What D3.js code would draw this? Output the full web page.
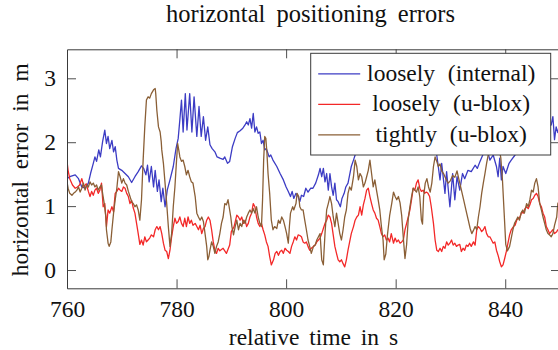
<!DOCTYPE html>
<html>
<head>
<meta charset="utf-8">
<script src="https://cdn.jsdelivr.net/npm/d3@7"></script>
<style>
  body { margin: 0; background: #fff; }
  svg { display: block; }
</style>
</head>
<body>
<svg id="chart" width="558" height="350"></svg>
<script>
// horizontal positioning errors: three error traces over relative time
var xTicks = [760, 780, 800, 820, 840];
var yTicks = [0, 1, 2, 3];
var seriesNames = ["loosely (internal)", "loosely (u-blox)", "tightly (u-blox)"];

var blueT = [760.0, 760.5, 761.5, 762.1, 762.7, 763.3, 763.9, 764.3, 764.8, 765.1, 765.4, 765.8, 766.1, 766.5, 766.9, 767.2, 767.5, 767.8, 768.2, 768.5,
  768.8, 769.1, 769.4, 770.0, 770.6, 771.2, 771.8, 772.4, 773.0, 773.6, 774.0, 774.4, 774.7, 775.0, 775.4, 775.8, 776.1, 776.5, 776.8, 777.2,
  777.5, 777.9, 778.3, 778.8, 779.4, 779.9, 780.3, 780.6, 780.9, 781.2, 781.6, 781.9, 782.4, 782.8, 783.2, 783.7, 784.1, 784.5, 784.9, 785.3,
  785.7, 786.1, 786.5, 787.0, 787.4, 787.9, 788.5, 788.8, 789.3, 789.7, 790.2, 790.7, 791.1, 791.6, 792.1, 792.5, 792.8, 793.1, 793.4, 793.7,
  794.0, 794.3, 794.6, 794.9, 795.2, 795.5, 795.8, 796.1, 796.4, 796.9, 797.2, 797.6, 798.3, 798.9, 799.5, 800.0, 800.4, 800.8, 801.1, 801.4,
  801.8, 802.2, 802.5, 802.8, 803.2, 803.6, 804.0, 804.5, 804.9, 805.4, 805.9, 806.2, 806.5, 806.8, 807.1, 807.4, 807.7, 808.0, 808.3, 808.6,
  808.9, 809.2, 809.5, 809.9, 810.2, 810.6, 810.9, 811.3, 811.6, 811.9, 812.3, 812.6, 813.5, 815.0, 817.0, 819.0, 821.0, 823.0, 825.0, 826.5,
  827.5, 828.1, 828.4, 829.0, 829.3, 829.9, 830.4, 830.8, 831.2, 831.7, 832.2, 832.6, 833.2, 833.8, 834.5, 834.9, 835.4, 835.9, 836.5, 837.2,
  837.8, 838.4, 838.7, 839.0, 839.3, 839.6, 840.1, 840.7, 841.1, 841.8, 843.0, 845.0, 847.0, 848.0, 848.4, 848.7, 849.0, 849.3, 849.6, 850.0];
var blueV = [1.43, 1.46, 1.49, 1.43, 1.30, 1.28, 1.36, 1.51, 1.67, 1.77, 1.70, 1.88, 1.77, 2.01, 2.19, 1.98, 2.09, 1.90, 2.03, 1.85,
  1.93, 1.72, 1.59, 1.56, 1.51, 1.46, 1.37, 1.46, 1.54, 1.63, 1.59, 1.49, 1.64, 1.38, 1.62, 1.30, 1.56, 1.23, 1.41, 1.07,
  1.28, 0.99, 1.25, 1.41, 1.62, 1.90, 2.06, 2.35, 2.66, 2.16, 2.76, 2.19, 2.76, 2.16, 2.71, 2.09, 2.56, 2.09, 2.40, 2.03,
  2.24, 1.96, 1.90, 1.85, 1.77, 1.75, 1.73, 1.77, 1.67, 1.70, 1.93, 2.06, 2.15, 2.18, 2.22, 2.27, 2.32, 2.27, 2.37, 2.22,
  2.45, 2.16, 2.24, 2.14, 2.16, 1.98, 2.03, 1.88, 1.90, 1.77, 1.80, 1.72, 1.62, 1.51, 1.41, 1.30, 1.23, 1.15, 1.23, 1.12,
  1.20, 1.15, 1.07, 1.17, 1.15, 1.28, 1.22, 1.28, 1.28, 1.36, 1.49, 1.59, 1.46, 1.59, 1.38, 1.51, 1.25, 1.51, 1.30, 1.17,
  1.36, 1.10, 1.07, 0.99, 1.12, 1.20, 1.30, 1.36, 1.49, 1.62, 1.72, 1.80, 2.00, 2.25, 2.40, 2.50, 2.45, 2.35, 2.20, 2.00,
  1.80, 1.41, 1.67, 1.20, 1.54, 0.99, 1.51, 1.10, 1.46, 1.25, 1.51, 1.43, 1.56, 1.54, 1.64, 1.59, 1.70, 1.80, 1.95, 1.72,
  1.80, 1.62, 1.46, 1.75, 1.41, 1.62, 1.51, 1.67, 1.72, 1.80, 2.00, 2.20, 2.30, 2.25, 2.27, 2.40, 2.04, 2.24, 2.15, 2.30];

var redT = [760.0, 760.2, 760.5, 761.0, 761.5, 761.9, 762.3, 762.7, 763.1, 763.5, 763.9, 764.2, 764.5, 764.8, 765.1, 765.4, 765.7, 766.0, 766.3, 766.6,
  766.9, 767.2, 767.5, 767.8, 768.2, 768.5, 768.8, 769.1, 769.4, 769.7, 770.0, 770.3, 770.6, 770.9, 771.2, 771.5, 771.8, 772.1, 772.4, 772.7,
  773.0, 773.3, 773.6, 773.9, 774.2, 774.5, 774.8, 775.1, 775.4, 775.8, 776.1, 776.4, 776.7, 777.0, 777.3, 777.6, 777.9, 778.2, 778.5, 778.8,
  779.1, 779.4, 779.7, 780.0, 780.3, 780.6, 780.9, 781.2, 781.5, 781.8, 782.1, 782.4, 782.7, 783.0, 783.4, 783.7, 784.0, 784.3, 784.6, 784.9,
  785.2, 785.5, 785.8, 786.1, 786.4, 786.7, 787.0, 787.3, 787.6, 787.9, 788.5, 789.1, 789.7, 790.0, 790.5, 791.0, 791.3, 791.6, 791.9, 792.2,
  792.5, 792.8, 793.1, 793.4, 793.7, 794.0, 794.3, 794.6, 794.9, 795.2, 795.5, 795.8, 796.1, 796.4, 796.7, 797.0, 797.3, 797.7, 798.0, 798.3,
  798.6, 798.9, 799.2, 799.5, 799.8, 800.1, 800.4, 800.7, 801.0, 801.3, 801.6, 801.9, 802.2, 802.5, 802.8, 803.1, 803.4, 803.7, 804.0, 804.3,
  804.6, 805.0, 805.3, 805.6, 805.9, 806.2, 806.5, 806.8, 807.1, 807.4, 807.7, 808.0, 808.3, 808.6, 808.9, 809.2, 809.5, 809.8, 810.1, 810.4,
  810.7, 811.0, 811.3, 811.6, 811.9, 812.3, 812.6, 812.9, 813.2, 813.5, 813.8, 814.1, 814.4, 814.7, 815.0, 815.3, 815.6, 815.9, 816.2, 816.5,
  816.8, 817.1, 817.4, 817.7, 818.0, 818.3, 818.6, 818.9, 819.2, 819.6, 819.9, 820.2, 820.5, 820.8, 821.1, 821.4, 821.7, 822.0, 822.3, 822.6,
  822.9, 823.2, 823.5, 823.8, 824.1, 824.4, 824.7, 825.0, 825.3, 825.6, 825.9, 826.2, 826.5, 826.9, 827.2, 827.5, 827.8, 828.1, 828.4, 828.7,
  829.0, 829.3, 829.6, 829.9, 830.2, 830.5, 830.8, 831.1, 831.4, 831.7, 832.0, 832.3, 832.6, 832.9, 833.2, 833.5, 833.8, 834.2, 834.5, 834.8,
  835.1, 835.4, 835.7, 836.0, 836.3, 836.6, 836.9, 837.2, 837.5, 837.8, 838.1, 838.4, 838.7, 839.0, 839.3, 839.6, 839.9, 840.2, 840.5, 840.8,
  841.1, 841.5, 841.8, 842.1, 842.4, 842.7, 843.0, 843.3, 843.6, 843.9, 844.2, 844.5, 844.8, 845.1, 845.4, 845.7, 846.0, 846.3, 846.6, 846.9,
  847.2, 847.5, 847.8, 848.1, 848.4, 848.7, 849.0, 849.4, 849.6, 850.0];
var redV = [1.70, 1.56, 1.43, 1.33, 1.28, 1.30, 1.33, 1.43, 1.30, 1.35, 1.23, 1.15, 1.23, 1.17, 1.25, 1.28, 1.20, 1.25, 1.36, 0.99,
  1.04, 0.68, 0.94, 0.89, 0.99, 0.91, 1.20, 1.23, 1.28, 1.25, 1.23, 1.30, 1.28, 1.20, 1.15, 1.04, 1.09, 0.97, 0.89, 0.73,
  0.57, 0.40, 0.47, 0.39, 0.52, 0.44, 0.47, 0.50, 0.55, 0.52, 0.63, 0.68, 0.63, 0.68, 0.57, 0.42, 0.31, 0.29, 0.18, 0.31,
  0.52, 0.68, 0.81, 0.73, 0.76, 0.83, 0.73, 0.68, 0.81, 0.68, 0.83, 0.73, 0.78, 0.70, 0.73, 0.68, 0.63, 0.70, 0.57, 0.65,
  0.68, 0.78, 0.83, 0.78, 0.63, 0.44, 0.31, 0.26, 0.34, 0.30, 0.34, 0.26, 0.39, 0.60, 0.68, 0.86, 0.83, 0.78, 0.83, 0.73,
  0.78, 0.68, 0.73, 0.83, 0.89, 1.04, 0.99, 0.83, 0.73, 0.68, 0.73, 0.63, 0.55, 0.44, 0.37, 0.21, 0.08, 0.16, 0.26, 0.29,
  0.23, 0.29, 0.31, 0.26, 0.34, 0.31, 0.29, 0.26, 0.37, 0.44, 0.52, 0.47, 0.55, 0.54, 0.52, 0.44, 0.42, 0.44, 0.37, 0.31,
  0.34, 0.37, 0.39, 0.44, 0.47, 0.50, 0.57, 0.65, 0.73, 0.78, 0.86, 0.83, 0.73, 0.55, 0.37, 0.26, 0.16, 0.13, 0.16, 0.10,
  0.05, 0.16, 0.31, 0.44, 0.57, 0.68, 0.78, 0.83, 0.86, 0.99, 0.86, 1.02, 1.12, 1.25, 1.28, 1.15, 1.04, 0.94, 0.89, 0.81,
  0.78, 0.68, 0.57, 0.52, 0.55, 0.47, 0.50, 0.44, 0.57, 0.42, 0.50, 0.44, 0.47, 0.42, 0.44, 0.47, 0.63, 0.73, 0.83, 0.94,
  1.10, 1.28, 1.25, 1.36, 1.41, 1.28, 1.23, 1.25, 1.20, 1.22, 1.20, 1.15, 0.99, 0.73, 0.47, 0.31, 0.29, 0.34, 0.29, 0.37,
  0.34, 0.44, 0.39, 0.42, 0.47, 0.39, 0.42, 0.37, 0.39, 0.40, 0.29, 0.34, 0.31, 0.39, 0.37, 0.42, 0.37, 0.44, 0.39, 0.63,
  0.68, 0.65, 0.60, 0.63, 0.68, 0.57, 0.52, 0.52, 0.47, 0.42, 0.44, 0.31, 0.23, 0.13, 0.05, 0.08, 0.18, 0.29, 0.42, 0.55,
  0.63, 0.68, 0.70, 0.78, 0.81, 0.83, 0.91, 0.89, 0.96, 0.99, 0.96, 1.02, 1.10, 1.12, 1.17, 1.20, 1.15, 1.04, 0.99, 0.89,
  0.83, 0.68, 0.63, 0.57, 0.60, 0.63, 0.57, 0.60, 0.63, 0.62];

var brownT = [760.0, 760.2, 760.5, 760.9, 761.2, 761.5, 761.8, 762.1, 762.4, 762.7, 763.0, 763.3, 763.6, 763.9, 764.2, 764.5, 764.8, 765.1, 765.4, 765.7,
  766.0, 766.3, 766.5, 766.8, 767.1, 767.2, 767.5, 767.7, 768.0, 768.2, 768.5, 768.8, 769.1, 769.4, 769.7, 770.0, 770.3, 770.6, 770.9, 771.2,
  771.5, 771.8, 772.1, 772.4, 772.7, 773.0, 773.3, 773.6, 773.9, 774.2, 774.5, 774.8, 775.1, 775.4, 775.8, 776.1, 776.2, 776.4, 776.7, 777.0,
  777.2, 777.3, 777.6, 777.9, 778.2, 778.5, 778.8, 779.1, 779.4, 779.7, 780.0, 780.2, 780.4, 780.6, 780.9, 781.2, 781.5, 781.8, 782.1, 782.4,
  782.7, 783.0, 783.4, 783.7, 784.0, 784.3, 784.6, 784.9, 785.2, 785.5, 785.7, 785.9, 786.1, 786.4, 786.7, 787.0, 787.3, 787.6, 787.9, 788.2,
  788.5, 788.8, 789.1, 789.4, 789.6, 789.9, 790.1, 790.4, 790.7, 791.0, 791.3, 791.6, 791.9, 792.2, 792.5, 792.8, 793.1, 793.4, 793.7, 794.0,
  794.3, 794.6, 794.9, 795.2, 795.5, 795.7, 795.9, 796.1, 796.3, 796.5, 796.7, 797.0, 797.3, 797.6, 797.9, 798.3, 798.6, 798.9, 799.2, 799.5,
  799.8, 800.1, 800.4, 800.6, 800.8, 801.2, 801.4, 801.8, 802.0, 802.3, 802.5, 802.8, 803.1, 803.4, 803.7, 804.0, 804.3, 804.6, 805.0, 805.3,
  805.6, 805.9, 806.2, 806.5, 806.8, 806.9, 807.1, 807.4, 807.7, 808.0, 808.3, 808.6, 808.9, 809.2, 809.5, 809.8, 810.1, 810.4, 810.7, 811.0,
  811.3, 811.6, 811.9, 812.3, 812.6, 812.9, 813.2, 813.5, 813.8, 814.1, 814.4, 814.7, 815.0, 815.3, 815.6, 815.9, 816.2, 816.5, 816.8, 817.1,
  817.4, 817.7, 817.9, 818.2, 818.5, 818.9, 819.3, 819.6, 819.9, 820.2, 820.5, 820.8, 821.1, 821.4, 821.7, 822.0, 822.3, 822.6, 822.9, 823.2,
  823.5, 823.8, 824.1, 824.4, 824.7, 824.9, 825.1, 825.4, 825.7, 826.0, 826.3, 826.6, 826.9, 827.2, 827.5, 827.8, 828.1, 828.4, 828.8, 829.2,
  829.6, 830.0, 830.4, 830.8, 831.2, 831.6, 832.0, 832.4, 832.8, 833.2, 833.6, 833.9, 834.2, 834.5, 834.8, 835.1, 835.4, 835.7, 836.0, 836.3,
  836.6, 836.9, 837.3, 837.8, 838.3, 838.8, 839.2, 839.5, 839.8, 840.1, 840.4, 840.8, 841.1, 841.4, 841.7, 842.0, 842.3, 842.6, 842.9, 843.2,
  843.5, 843.9, 844.2, 844.5, 844.8, 845.1, 845.4, 845.7, 846.0, 846.3, 846.6, 846.9, 847.2, 847.5, 847.8, 848.1, 848.4, 848.7, 849.0, 849.4,
  849.6, 850.0];
var brownV = [1.38, 1.28, 1.20, 1.17, 1.20, 1.22, 1.25, 1.30, 1.22, 1.28, 1.36, 1.25, 1.33, 1.30, 1.38, 1.33, 1.36, 1.30, 1.33, 1.25,
  1.30, 1.33, 1.20, 1.04, 0.83, 0.63, 0.42, 0.37, 0.44, 0.63, 0.89, 1.10, 1.28, 1.54, 1.46, 1.36, 1.43, 1.36, 1.33, 1.23,
  1.15, 1.07, 1.04, 0.99, 1.02, 0.94, 0.78, 1.10, 1.72, 2.24, 2.66, 2.71, 2.69, 2.76, 2.82, 2.84, 2.76, 2.50, 2.24, 2.16,
  2.01, 1.88, 1.67, 1.36, 1.04, 0.68, 0.37, 0.57, 0.99, 1.30, 1.72, 1.98, 1.88, 1.77, 1.70, 1.72, 1.62, 1.49, 1.56, 1.46,
  1.38, 1.36, 1.15, 0.89, 0.83, 0.78, 0.83, 0.76, 0.57, 0.37, 0.16, 0.21, 0.31, 0.44, 0.37, 0.26, 0.37, 0.44, 0.57, 0.73,
  0.83, 1.04, 1.02, 1.10, 0.99, 0.83, 0.68, 0.55, 0.68, 0.78, 0.63, 0.73, 0.68, 0.78, 0.73, 0.83, 0.89, 0.94, 0.89, 0.96,
  0.89, 0.99, 0.83, 0.73, 0.68, 1.10, 1.72, 2.09, 2.06, 1.83, 1.51, 1.20, 0.78, 0.63, 0.68, 0.65, 0.78, 0.73, 0.83, 0.78,
  0.68, 0.57, 0.42, 0.68, 0.89, 0.99, 0.94, 1.04, 1.20, 1.15, 0.99, 0.94, 0.94, 0.78, 0.63, 0.47, 0.37, 0.26, 0.37, 0.39,
  0.47, 0.52, 0.57, 0.16, 0.08, 0.26, 0.57, 0.94, 1.04, 1.15, 1.04, 0.83, 0.68, 0.89, 0.73, 0.57, 0.47, 0.63, 0.83, 0.94,
  1.20, 1.30, 1.25, 1.46, 1.72, 1.62, 1.41, 1.51, 1.46, 1.30, 1.36, 1.46, 1.56, 1.72, 1.51, 1.30, 1.41, 1.25, 1.10, 0.94,
  0.68, 0.47, 0.16, 0.25, 0.55, 0.85, 1.05, 1.22, 1.15, 1.10, 1.15, 1.05, 0.85, 0.50, 0.18, 0.40, 0.80, 0.99, 1.15, 1.28,
  1.25, 1.22, 1.30, 1.15, 0.78, 0.72, 1.15, 1.36, 1.43, 1.30, 1.22, 1.36, 1.62, 1.77, 1.70, 1.62, 1.66, 1.55, 1.50, 1.42,
  1.36, 1.40, 1.48, 1.45, 1.55, 1.40, 1.25, 1.10, 0.95, 0.80, 0.65, 0.57, 0.62, 0.68, 0.63, 0.83, 0.99, 1.20, 1.36, 1.51,
  1.67, 1.80, 1.95, 2.05, 2.00, 1.95, 1.75, 1.40, 0.90, 0.40, 0.30, 0.37, 0.50, 0.63, 0.73, 0.78, 0.83, 0.78, 0.89, 0.94,
  0.89, 1.04, 0.99, 1.10, 1.25, 1.22, 1.36, 1.43, 1.30, 1.04, 0.94, 0.83, 0.73, 0.63, 0.57, 0.55, 0.52, 0.57, 0.70, 0.83,
  1.04, 1.10];

var series = [
  { name: seriesNames[0], t: blueT, v: blueV, color: "#3c3cc4" },
  { name: seriesNames[1], t: redT, v: redV, color: "#f32828" },
  { name: seriesNames[2], t: brownT, v: brownV, color: "#8a5f36" }
];

var svg = d3.select("#chart");
var FONT = "'Liberation Serif'";
var FS = 23.5, INK = "#3a3a3a", TICK = 9;
var box = { l: 67, r: 560, t: 49.3, b: 288.3 };
var midX = (box.l + box.r) / 2;

var x = d3.scaleLinear().domain([760, 850]).range([box.l, box.r]);
var y = d3.scaleLinear().domain([-0.286, 3.454]).range([box.b, box.t]);

svg.append("defs").append("clipPath").attr("id", "plotclip")
  .append("rect").attr("x", box.l).attr("y", box.t)
  .attr("width", box.r - box.l).attr("height", box.b - box.t);

// lines
var line = d3.line().x(function (d) { return x(d[0]); }).y(function (d) { return y(d[1]); });
var gL = svg.append("g").attr("clip-path", "url(#plotclip)");
series.forEach(function (s) {
  var pts = s.t.map(function (t, i) { return [t, s.v[i]]; });
  gL.append("path").attr("d", line(pts)).attr("fill", "none")
    .attr("stroke", s.color).attr("stroke-width", 1.3).attr("stroke-linejoin", "round");
});

// axes, ticks inward on all four sides
function styleAxis(g) {
  g.select(".domain").attr("stroke", INK).attr("stroke-width", 1);
  g.selectAll(".tick line").attr("stroke", INK).attr("stroke-width", 0.9);
  g.selectAll(".tick text").attr("fill", "#111")
    .style("font-family", FONT).style("font-size", FS + "px");
}
var xInner = xTicks.filter(function (d) { return d > 760; });

svg.append("g").attr("transform", "translate(0," + box.b + ")")
  .call(d3.axisBottom(x).tickValues(xTicks).tickSizeInner(-TICK).tickSizeOuter(0).tickPadding(12.5))
  .call(styleAxis);
svg.append("g").attr("transform", "translate(0," + box.t + ")")
  .call(d3.axisTop(x).tickValues(xInner).tickSizeInner(-TICK).tickSizeOuter(0).tickFormat(""))
  .call(styleAxis);
svg.append("g").attr("transform", "translate(" + box.l + ",0)")
  .call(d3.axisLeft(y).tickValues(yTicks).tickSizeInner(-TICK).tickSizeOuter(0).tickPadding(11).tickFormat(d3.format("d")))
  .call(styleAxis);
svg.append("g").attr("transform", "translate(" + box.r + ",0)")
  .call(d3.axisRight(y).tickValues(yTicks).tickSizeInner(-TICK).tickSizeOuter(0).tickFormat(""))
  .call(styleAxis);

function label(sel, txt, ws, fs) {
  return sel.style("font-family", FONT).style("font-size", (fs || FS) + "px").attr("fill", "#111")
    .attr("text-anchor", "middle").style("word-spacing", ws + "px").text(txt);
}

// titles
label(svg.append("text").attr("x", midX - 3).attr("y", 22), "horizontal positioning errors", 5, 24.5);
label(svg.append("text").attr("x", midX).attr("y", 344.5), "relative time in s", 4);
label(svg.append("text").attr("transform", "translate(28," + ((box.t + box.b) / 2 + 1) + ") rotate(-90)"),
  "horizontal error in m", 6);

// legend
var lg = svg.append("g").attr("transform", "translate(310.7,53.3)");
lg.append("rect").attr("width", 240).attr("height", 101.7)
  .attr("fill", "#fff").attr("stroke", INK).attr("stroke-width", 1);
series.forEach(function (s, i) {
  var ry = 20.5 + i * 30.5;
  lg.append("line").attr("x1", 7.5).attr("x2", 49.5).attr("y1", ry).attr("y2", ry)
    .attr("stroke", s.color).attr("stroke-width", 1.3);
  label(lg.append("text").attr("x", 140.5).attr("y", ry + 7), s.name, 7);
});
</script>
</body>
</html>
